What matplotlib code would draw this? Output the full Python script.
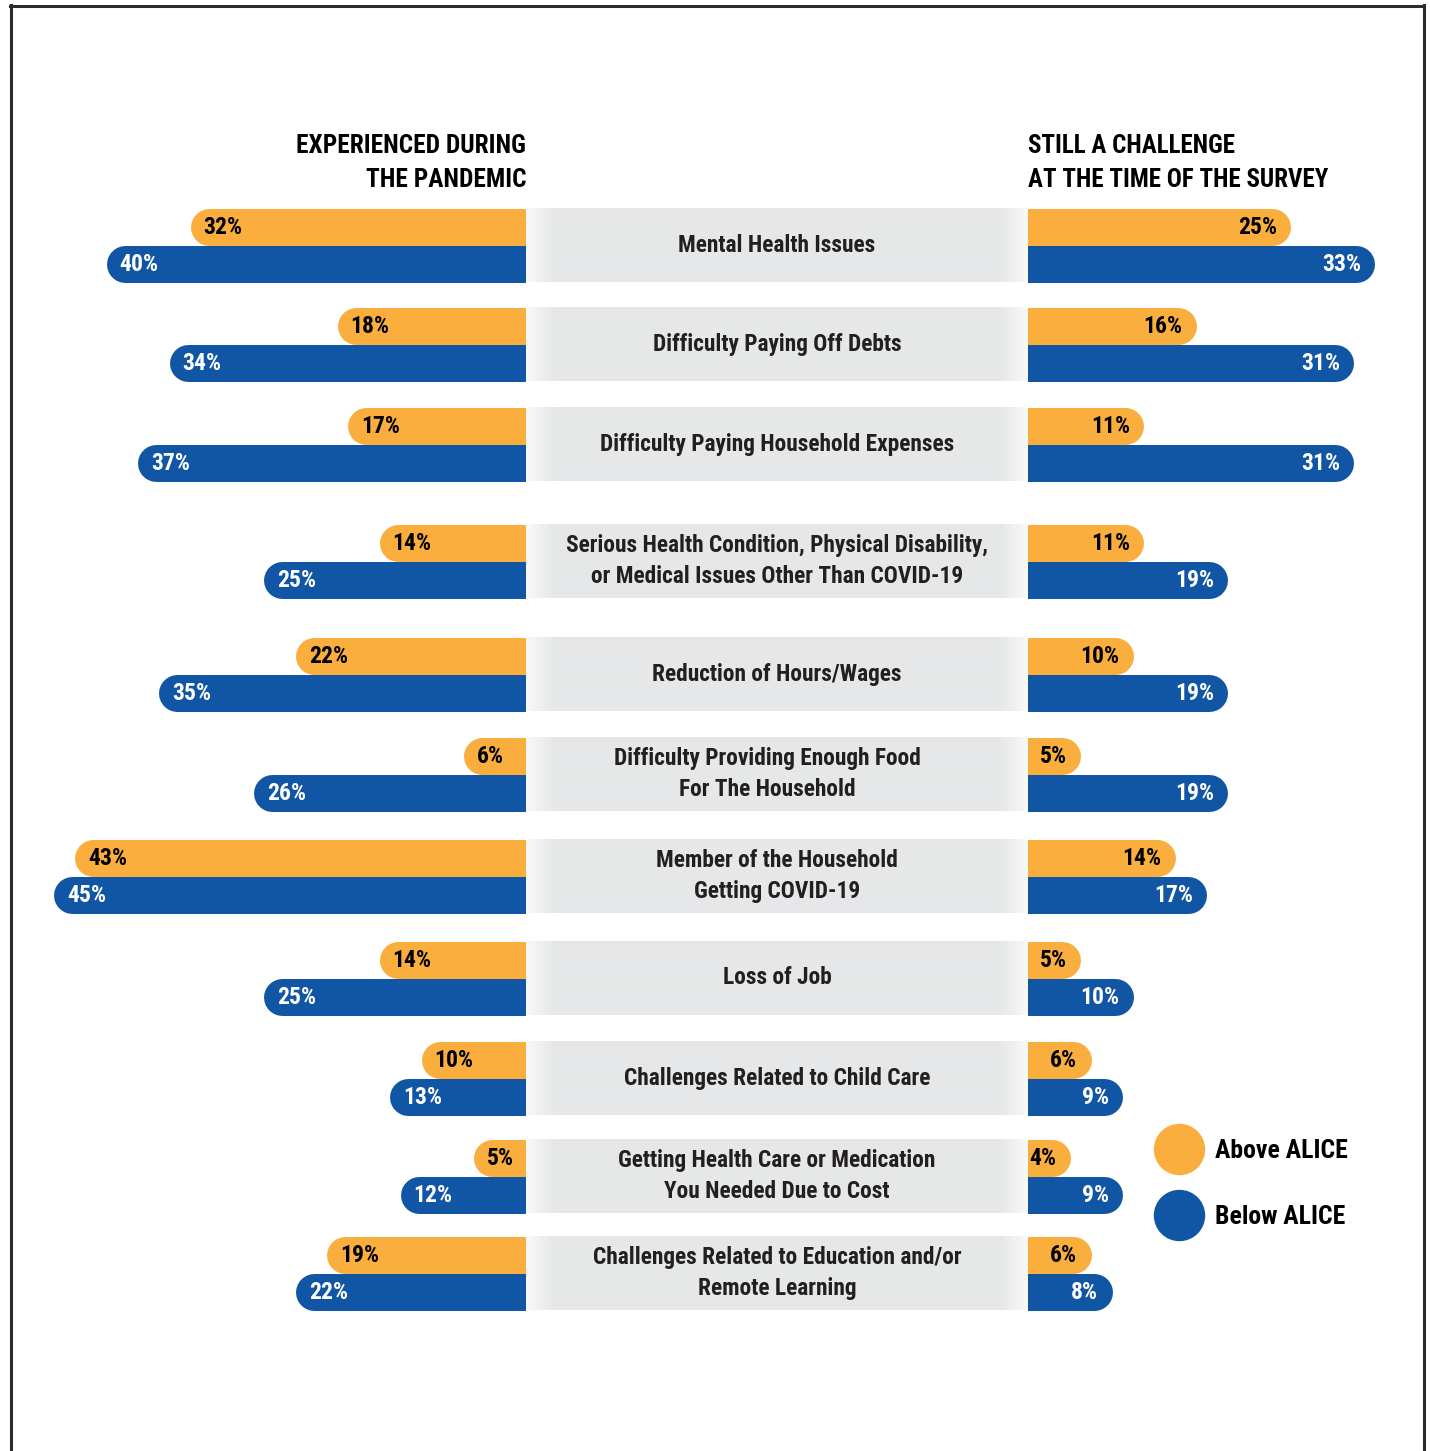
import matplotlib
matplotlib.use("Agg")
import matplotlib.pyplot as plt
import numpy as np
from matplotlib import font_manager
from matplotlib.colors import to_rgb
from matplotlib.lines import Line2D

# --- data -------------------------------------------------------------------
CATEGORIES = [
    "Mental Health Issues",
    "Difficulty Paying Off Debts",
    "Difficulty Paying Household Expenses",
    "Serious Health Condition, Physical Disability,\nor Medical Issues Other Than COVID-19",
    "Reduction of Hours/Wages",
    "Difficulty Providing Enough Food\nFor The Household",
    "Member of the Household\nGetting COVID-19",
    "Loss of Job",
    "Challenges Related to Child Care",
    "Getting Health Care or Medication\nYou Needed Due to Cost",
    "Challenges Related to Education and/or\nRemote Learning",
]
ABOVE_DURING = [32, 18, 17, 14, 22, 6, 43, 14, 10, 5, 19]
BELOW_DURING = [40, 34, 37, 25, 35, 26, 45, 25, 13, 12, 22]
ABOVE_NOW = [25, 16, 11, 11, 10, 5, 14, 5, 6, 4, 6]
BELOW_NOW = [33, 31, 31, 19, 19, 19, 17, 10, 9, 9, 8]

LEFT_TITLE = "EXPERIENCED DURING\nTHE PANDEMIC"
RIGHT_TITLE = "STILL A CHALLENGE\nAT THE TIME OF THE SURVEY"
LEGEND_LABELS = ["Above ALICE", "Below ALICE"]

# --- layout / style -----------------------------------------------------------
ORANGE = "#FAAE3E"
BLUE = "#1155A5"
PANEL = "#E6E7E8"
INK = "#231F20"

W, H, DPI = 1430, 1451, 100
PX_PER_PCT = 10.5
MID_L, MID_R = 526, 1028                 # grey panel edges (px)
ROW_TOP = [208, 307, 407, 524, 637, 737, 839, 941, 1041, 1139, 1236]
BAR_H = 37                               # px, each of the two bars per row


def _pick_font():
    names = {f.name for f in font_manager.fontManager.ttflist}
    for name in ("Roboto Condensed", "Liberation Sans Narrow", "DejaVu Sans Condensed",
                 "Open Sans Condensed"):
        if name in names:
            return name
    return "DejaVu Sans"


FONT = _pick_font()
plt.rcParams["font.family"] = [FONT, "DejaVu Sans"]
plt.rcParams["font.stretch"] = "condensed"
plt.rcParams["font.weight"] = "bold"

fig = plt.figure(figsize=(W / DPI, H / DPI), dpi=DPI)
fig.patch.set_facecolor("white")

ax_l = fig.add_axes([0, 0, MID_L / W, 1])
ax_c = fig.add_axes([MID_L / W, 0, (MID_R - MID_L) / W, 1])
ax_r = fig.add_axes([MID_R / W, 0, (W - MID_R) / W, 1])

lw_pt = BAR_H * 72 / DPI
cap = BAR_H / 2 / PX_PER_PCT             # round cap length in % units


def draw_side(ax, above, below, left):
    for i, top in enumerate(ROW_TOP):
        for j, (vals, color, tcolor) in enumerate(((above, ORANGE, "black"),
                                                    (below, BLUE, "white"))):
            v = vals[i]
            y = top + BAR_H * (j + 0.5)
            ax.plot([0, max(v - cap, 0)], [y, y], color=color, lw=lw_pt,
                    solid_capstyle="round", clip_on=True, zorder=2)
            ax.text(v - 1.3, y + 1, f"{v}%", ha="left" if left else "right",
                    va="center", fontsize=17, color=tcolor, zorder=3)


draw_side(ax_l, ABOVE_DURING, BELOW_DURING, left=True)
draw_side(ax_r, ABOVE_NOW, BELOW_NOW, left=False)

# grey label panels with soft edges
xs = np.linspace(0, 1, 502)
edge_px = np.minimum(xs, 1 - xs) * (MID_R - MID_L)
fade = np.clip(1 - edge_px / 28, 0, 1)[:, None]
grad = np.array(to_rgb(PANEL)) * (1 - fade) + np.array([0.975] * 3) * fade
for i, (top, label) in enumerate(zip(ROW_TOP, CATEGORIES)):
    ax_c.imshow(grad[None, :, :], extent=(0, 1, top + 2 * BAR_H, top),
                aspect="auto", interpolation="bilinear", zorder=1)
    xc = 0.48 if i == 5 else 0.5
    ax_c.text(xc, top + BAR_H, label, ha="center", va="center", fontsize=16.8,
              color=INK, linespacing=1.45, zorder=3)

ax_l.set_xlim(MID_L / PX_PER_PCT, 0)
ax_r.set_xlim(0, (W - MID_R) / PX_PER_PCT)
ax_c.set_xlim(0, 1)
for ax in (ax_l, ax_c, ax_r):
    ax.set_ylim(H, 0)
    ax.axis("off")

# column headings
fig.text(MID_L / W, 1 - 134 / H, LEFT_TITLE, ha="right", va="top", fontsize=18.3,
         color="black", linespacing=1.55)
fig.text(MID_R / W, 1 - 134 / H, RIGHT_TITLE, ha="left", va="top", fontsize=18,
         color="black", linespacing=1.55)

# legend
handles = [Line2D([], [], ls="", marker="o", ms=36, mfc=c, mec=c) for c in (ORANGE, BLUE)]
fig.legend(handles, LEGEND_LABELS, loc="center left", bbox_to_anchor=(1153 / W, 1 - 1184 / H),
           frameon=False, fontsize=18.5, handlelength=2.0, handletextpad=0.41,
           labelspacing=1.6, borderaxespad=0, borderpad=0)

# page frame
for xd, yd in (([10, 1424], [6, 6]), ([10.5, 10.5], [5, H]), ([1423.5, 1423.5], [5, H])):
    fig.add_artist(Line2D([x / W for x in xd], [1 - y / H for y in yd], color="#2B2B2B",
                          lw=2.2, transform=fig.transFigure))

fig.savefig("out.png", dpi=DPI, facecolor="white")
